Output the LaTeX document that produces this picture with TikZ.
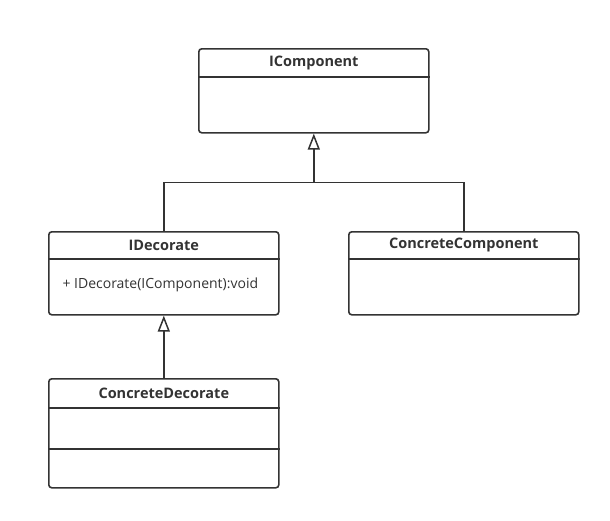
\documentclass[tikz,border=0pt]{standalone}
\usepackage{fontspec}
\setmainfont{Open Sans}
\usepackage{tikz}
\usetikzlibrary{arrows.meta, positioning, calc}
\definecolor{umlink}{HTML}{333333}

\begin{document}
\begin{tikzpicture}[
  x=1pt, y=-1pt,
  font=\fontsize{14}{17}\selectfont,
  umlbox/.style={
    draw=umlink,
    line width=1.6pt,
    rounded corners=3pt,
    minimum width=230pt,
    inner sep=0pt,
    anchor=north west
  },
  umltitle/.style={font=\fontsize{14.5}{17}\selectfont\bfseries, text=umlink},
  member/.style={text=umlink, anchor=west},
  divider/.style={draw=umlink, line width=1.6pt},
  inherit/.style={-{Triangle[open, length=16pt, width=12pt, line width=1.5pt]}, line width=1.6pt, draw=umlink},
  wire/.style={line width=1.6pt, draw=umlink}
]
\useasboundingbox (0,0) rectangle (610,520);

% interface
\node[umlbox, minimum height=84pt] (icomp) at (198,48) {};
\node[umltitle] (icomptitle) at ([yshift=-15pt]icomp.north) {IComponent};
\draw[divider] ([yshift=-29pt]icomp.north west) -- ([yshift=-29pt]icomp.north east);

% decorator base
\node[umlbox, minimum height=83pt] (idec) at (48,231) {};
\node[umltitle] (idectitle) at ([yshift=-14pt]idec.north) {IDecorate};
\draw[divider] ([yshift=-28pt]idec.north west) -- ([yshift=-28pt]idec.north east);
\node[member] (idecop) at ([xshift=11pt,yshift=-54pt]idec.north west) {+ IDecorate(IComponent):void};

% concrete component
\node[umlbox, minimum height=83pt] (ccomp) at (348,231) {};
\node[umltitle] (ccomptitle) at ([yshift=-14pt]ccomp.north) {ConcreteComponent};
\draw[divider] ([yshift=-28pt]ccomp.north west) -- ([yshift=-28pt]ccomp.north east);

% concrete decorator
\node[umlbox, minimum height=109pt] (cdec) at (48,378) {};
\node[umltitle] (cdectitle) at ([yshift=-15pt]cdec.north) {ConcreteDecorate};
\draw[divider] ([yshift=-30pt]cdec.north west) -- ([yshift=-30pt]cdec.north east);
\draw[divider] ([yshift=-71pt]cdec.north west) -- ([yshift=-71pt]cdec.north east);

% inheritance
\coordinate (joint) at ([yshift=-49pt]icomp.south);
\draw[inherit] (joint) -- (icomp.south);
\draw[wire] (idec.north) |- (joint) -| (ccomp.north);
\draw[inherit] (cdec.north) -- (idec.south);

\end{tikzpicture}
\end{document}
